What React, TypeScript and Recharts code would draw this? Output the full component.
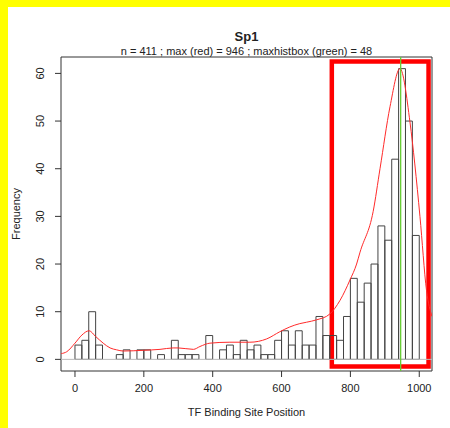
import { ComposedChart, Bar, Line, XAxis, YAxis, ReferenceLine, ReferenceArea } from 'recharts'

// histogram: bins of width 20 starting at 0
const BIN_START = [
  0, 20, 40, 60, 80, 100, 120, 140, 160, 180, 200, 220, 240, 260, 280, 300, 320, 340, 360, 380, 400, 420, 440, 460, 480,
  500, 520, 540, 560, 580, 600, 620, 640, 660, 680, 700, 720, 740, 760, 780, 800, 820, 840, 860, 880, 900, 920, 940, 960, 980,
]
const COUNTS = [
  3, 4, 10, 3, 0, 0, 1, 2, 0, 2, 2, 0, 1, 0, 4, 1, 1, 1, 0, 5, 0, 2, 3, 1, 4,
  2, 3, 1, 1, 4, 6, 3, 6, 3, 3, 9, 5, 5, 4, 9, 17, 12, 16, 20, 28, 25, 42, 61, 50, 26,
]
const BIN_W = 20

// scaled density curve (red)
const DENS_X = [
  -40, -24, 0, 20, 41, 60, 82, 102, 121, 140, 198, 247, 285, 300, 344, 363, 392, 450, 508, 557, 595, 624, 653, 673,
  702, 740, 770, 799, 818, 828, 866, 886, 915, 944, 973, 987, 1002, 1021, 1037,
]
const DENS_Y = [
  1.2, 1.6, 3.4, 5.1, 6.0, 4.8, 3.4, 2.4, 2.0, 1.75, 1.9, 2.1, 2.4, 2.4, 2.1, 2.7, 3.4, 3.6, 3.6, 4.3, 5.8, 6.8, 7.5, 7.8,
  8.3, 9.5, 12.4, 16.7, 20, 22.5, 31, 40, 53, 61, 49.8, 41, 30, 14.5, 9,
]

const X_TICKS = [0, 200, 400, 600, 800, 1000]
const Y_TICKS = [0, 10, 20, 30, 40, 50, 60]
const PEAK_X = 946
const BOX_X = [746, 1027]
const BOX_Y = [-1.5, 62.5]

const TITLE = 'Sp1'
const SUBTITLE = 'n = 411 ; max (red) = 946 ; maxhistbox (green) = 48'
const X_LABEL = 'TF Binding Site Position'
const Y_LABEL = 'Frequency'

const FONT = '"Liberation Sans", Arial, Helvetica, sans-serif'
const W = 442
const H = 421
const MARGIN = { top: 50, right: 18, bottom: 0, left: 0 }
const Y_AXIS_W = 53
const X_AXIS_H = 57
const X_DOMAIN: [number, number] = [-40.6, 1037]
const Y_DOMAIN: [number, number] = [-2.44, 63.44]
const PLOT_W = W - MARGIN.left - MARGIN.right - Y_AXIS_W
const BAR_PX = (BIN_W * PLOT_W) / (X_DOMAIN[1] - X_DOMAIN[0]) - 0.01

const binRows = BIN_START.map((start, i) => ({ mid: start + BIN_W / 2, count: COUNTS[i] }))
const densRows = DENS_X.map((x, i) => ({ x, y: DENS_Y[i] }))

function YTick(props: any) {
  const { x, y, payload } = props
  const bx = x - 9
  return (
    <text x={bx} y={y} transform={`rotate(-90 ${bx} ${y})`} textAnchor="middle" fontSize={11} fill="#222" fontFamily={FONT}>
      {payload.value}
    </text>
  )
}

export default function App() {
  const plotCenter = MARGIN.left + Y_AXIS_W + PLOT_W / 2
  return (
    <div
      style={{
        position: 'absolute',
        left: 8,
        top: 7,
        right: 0,
        bottom: 0,
        overflow: 'hidden',
        background: '#fff',
      }}
    >
      <style>{'html,body{margin:0;padding:0;overflow:hidden;background:#ffff00;}'}</style>
      <ComposedChart width={W} height={H} data={binRows} margin={MARGIN}>
        <XAxis
          dataKey="x"
          type="number"
          domain={X_DOMAIN}
          ticks={X_TICKS}
          allowDataOverflow
          axisLine={false}
          height={X_AXIS_H}
          tickSize={6}
          tickMargin={7}
          tickLine={{ stroke: '#333' }}
          tick={{ fontSize: 11, fill: '#222', fontFamily: FONT }}
          label={(p: any) => (
            <text
              x={p.viewBox.x + p.viewBox.width / 2}
              y={p.viewBox.y + 45}
              textAnchor="middle"
              fontSize={11}
              fill="#222"
              fontFamily={FONT}
            >
              {X_LABEL}
            </text>
          )}
        />
        <XAxis xAxisId="bins" dataKey="mid" type="number" domain={X_DOMAIN} allowDataOverflow hide />
        <YAxis
          type="number"
          domain={Y_DOMAIN}
          ticks={Y_TICKS}
          allowDataOverflow
          axisLine={false}
          width={Y_AXIS_W}
          tickSize={6}
          tickLine={{ stroke: '#333' }}
          tick={<YTick />}
          label={(p: any) => {
            const lx = p.viewBox.x + 12
            const ly = p.viewBox.y + p.viewBox.height / 2
            return (
              <text x={lx} y={ly} transform={`rotate(-90 ${lx} ${ly})`} textAnchor="middle" fontSize={11} fill="#222" fontFamily={FONT}>
                {Y_LABEL}
              </text>
            )
          }}
        />
        <ReferenceLine y={0} stroke="#bbb" strokeWidth={1} />
        <Bar
          xAxisId="bins"
          dataKey="count"
          fill="none"
          stroke="#444"
          strokeWidth={1}
          barSize={BAR_PX}
          isAnimationActive={false}
        />
        <Line
          data={densRows}
          dataKey="y"
          type="monotone"
          stroke="#ff2a2a"
          strokeWidth={1}
          dot={false}
          activeDot={false}
          isAnimationActive={false}
        />
        <ReferenceLine x={PEAK_X} stroke="#66cc33" strokeWidth={1.3} />
        <ReferenceArea
          x1={X_DOMAIN[0]}
          x2={X_DOMAIN[1]}
          y1={Y_DOMAIN[0]}
          y2={Y_DOMAIN[1]}
          fill="none"
          stroke="#333"
          strokeWidth={1}
          ifOverflow="visible"
        />
        <ReferenceArea
          x1={BOX_X[0]}
          x2={BOX_X[1]}
          y1={BOX_Y[0]}
          y2={BOX_Y[1]}
          fill="none"
          fillOpacity={0}
          stroke="#ff0000"
          strokeWidth={4.5}
          ifOverflow="visible"
        />
      </ComposedChart>
      <svg width={W} height={60} style={{ position: 'absolute', left: 0, top: 0, pointerEvents: 'none' }}>
        <text x={plotCenter} y={34} textAnchor="middle" fontSize={13} fontWeight="bold" fill="#222" fontFamily={FONT}>
          {TITLE}
        </text>
        <text x={plotCenter} y={47.5} textAnchor="middle" fontSize={11} fill="#222" fontFamily={FONT}>
          {SUBTITLE}
        </text>
      </svg>
    </div>
  )
}
